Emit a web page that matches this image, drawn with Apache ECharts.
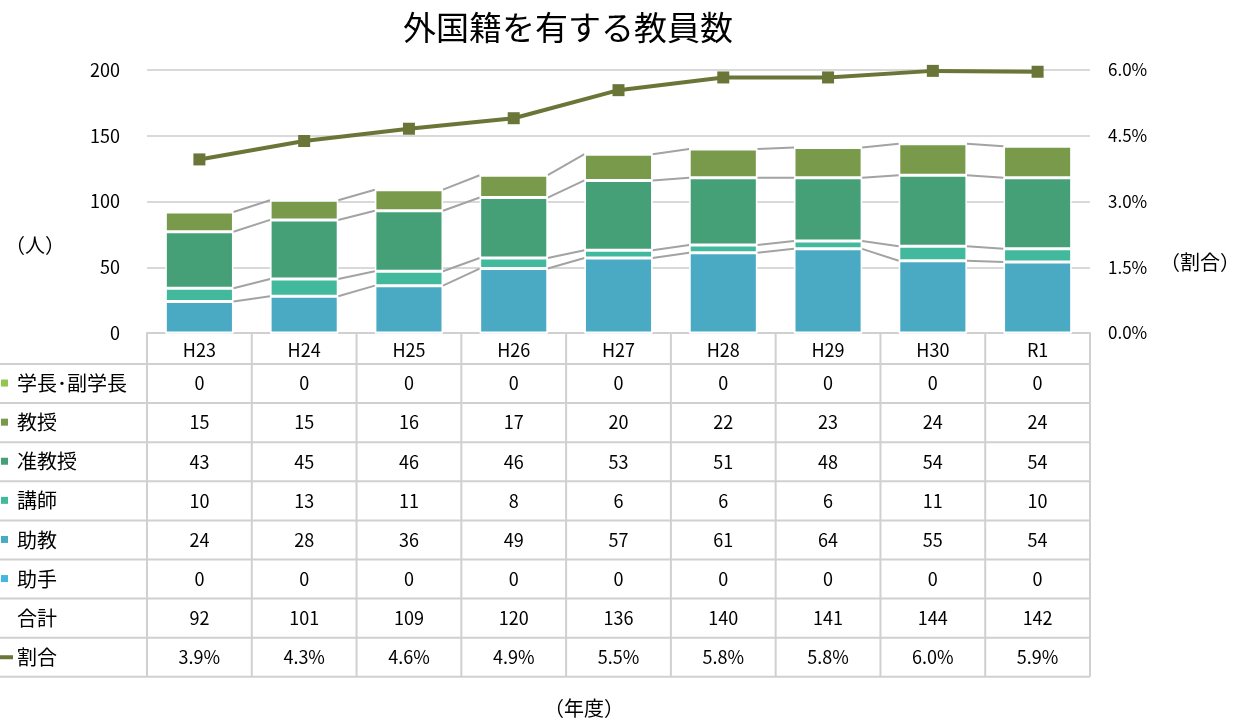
<!DOCTYPE html>
<html lang="ja">
<head>
<meta charset="UTF-8">
<title>外国籍を有する教員数</title>
<style>
  html, body { margin: 0; padding: 0; background: #fff; }
  #main { width: 1238px; height: 720px; }
</style>
</head>
<body>
<div id="main"></div>
<script src="https://cdn.jsdelivr.net/npm/echarts@6/dist/echarts.min.js"></script>
<script>
var years = ['H23', 'H24', 'H25', 'H26', 'H27', 'H28', 'H29', 'H30', 'R1'];

// 学長・副学長 / 教授 / 准教授 / 講師 / 助教 / 助手
var gakucho = [0, 0, 0, 0, 0, 0, 0, 0, 0];
var kyoju   = [15, 15, 16, 17, 20, 22, 23, 24, 24];
var junkyoju = [43, 45, 46, 46, 53, 51, 48, 54, 54];
var koshi   = [10, 13, 11, 8, 6, 6, 6, 11, 10];
var jokyo   = [24, 28, 36, 49, 57, 61, 64, 55, 54];
var joshu   = [0, 0, 0, 0, 0, 0, 0, 0, 0];
// 割合: line values, table text as printed
var wariai  = [3.96, 4.38, 4.66, 4.9, 5.54, 5.83, 5.83, 5.98, 5.96];
var wariaiText = ['3.9%', '4.3%', '4.6%', '4.9%', '5.5%', '5.8%', '5.8%', '6.0%', '5.9%'];

var leftTicks = [0, 50, 100, 150, 200];
var rightTicks = [0, 1.5, 3.0, 4.5, 6.0];

// bottom of the stack first
var stackSeries = [
  { name: '助手', data: joshu, color: '#45b5e4' },
  { name: '助教', data: jokyo, color: '#4baac3' },
  { name: '講師', data: koshi, color: '#42b99d' },
  { name: '准教授', data: junkyoju, color: '#45a078' },
  { name: '教授', data: kyoju, color: '#789a4a' },
  { name: '学長・副学長', data: gakucho, color: '#92c74f' }
];
var lineColor = '#6a7538';
var barRatio = 0.65;

var totals = years.map(function (y, i) {
  var s = 0;
  stackSeries.forEach(function (ss) { s += ss.data[i]; });
  return s;
});

var chart = echarts.init(document.getElementById('main'));
var fontFamily = '"Noto Sans CJK JP", "Noto Sans", sans-serif';

var series = [];
stackSeries.forEach(function (ss) {
  series.push({
    name: ss.name,
    type: 'bar',
    stack: 'all',
    barWidth: (barRatio * 100) + '%',
    data: ss.data,
    itemStyle: { color: ss.color, borderColor: '#ffffff', borderWidth: 1.5 },
    z: 3
  });
});

// series lines between bars (cumulative tops)
var cum = years.map(function () { return 0; });
stackSeries.forEach(function (ss) {
  var allZero = ss.data.every(function (v) { return v === 0; });
  cum = cum.map(function (c, i) { return c + ss.data[i]; });
  if (allZero) return;
  var level = cum.slice();
  var segs = [];
  for (var i = 0; i < years.length - 1; i++) segs.push([i, level[i], level[i + 1]]);
  series.push({
    type: 'custom',
    data: segs,
    silent: true,
    z: 2,
    renderItem: function (params, api) {
      var i = api.value(0);
      var p1 = api.coord([i, api.value(1)]);
      var p2 = api.coord([i + 1, api.value(2)]);
      var hw = api.size([1, 0])[0] * barRatio / 2;
      return {
        type: 'line',
        shape: { x1: p1[0] + hw, y1: p1[1], x2: p2[0] - hw, y2: p2[1] },
        style: { stroke: '#a3a3a3', lineWidth: 2 }
      };
    }
  });
});

series.push({
  name: '割合',
  type: 'line',
  yAxisIndex: 1,
  data: wariai,
  symbol: 'rect',
  symbolSize: 12,
  lineStyle: { color: lineColor, width: 4 },
  itemStyle: { color: lineColor },
  z: 5
});

var option = {
  animation: false,
  textStyle: { fontFamily: fontFamily },
  title: {
    text: '外国籍を有する教員数',
    left: 563,
    top: 6,
    textAlign: 'center',
    textStyle: { fontSize: 33, fontWeight: 'normal', color: '#000', fontFamily: fontFamily }
  },
  grid: { left: 147, right: 148, top: 70, bottom: 387 },
  xAxis: {
    type: 'category',
    data: years,
    axisLine: { lineStyle: { color: '#d0d0d0', width: 2 } },
    axisTick: { show: false },
    axisLabel: { color: '#000', fontSize: 18, margin: 8, fontFamily: fontFamily }
  },
  yAxis: [{
    type: 'value',
    min: leftTicks[0],
    max: leftTicks[leftTicks.length - 1],
    interval: leftTicks[1] - leftTicks[0],
    axisLine: { show: false },
    axisTick: { show: false },
    axisLabel: { color: '#000', fontSize: 18, margin: 27, fontFamily: fontFamily },
    splitLine: { lineStyle: { color: '#d9d9d9', width: 2 } }
  }, {
    type: 'value',
    min: rightTicks[0],
    max: rightTicks[rightTicks.length - 1],
    interval: rightTicks[1] - rightTicks[0],
    axisLine: { show: false },
    axisTick: { show: false },
    splitLine: { show: false },
    axisLabel: {
      color: '#000', fontSize: 17, margin: 18, fontFamily: fontFamily,
      formatter: function (v) { return v.toFixed(1) + '%'; }
    }
  }],
  series: series
};
chart.setOption(option);

// data table under the chart
var xs = years.map(function (y, i) { return chart.convertToPixel({ xAxisIndex: 0 }, i); });
var cw = xs[1] - xs[0];
var tableLeft = xs[0] - cw / 2;
var tableRight = xs[xs.length - 1] + cw / 2;
var axisY = chart.convertToPixel({ yAxisIndex: 0 }, 0);
var headerH = 31;
var rowH = 39.1;
var gridColor = '#d0d0d0';

var rows = [
  { label: '学長･副学長', vals: gakucho, marker: '#92c74f' },
  { label: '教授', vals: kyoju, marker: '#789a4a' },
  { label: '准教授', vals: junkyoju, marker: '#45a078' },
  { label: '講師', vals: koshi, marker: '#42b99d' },
  { label: '助教', vals: jokyo, marker: '#4baac3' },
  { label: '助手', vals: joshu, marker: '#45b5e4' },
  { label: '合計', vals: totals, marker: null },
  { label: '割合', vals: wariaiText, marker: 'line' }
];

var g = [];
var top0 = axisY + headerH;
var bottom = top0 + rows.length * rowH;
// vertical lines
for (var c = 0; c <= years.length; c++) {
  var vx = tableLeft + c * cw;
  g.push({ type: 'line', shape: { x1: vx, y1: axisY, x2: vx, y2: bottom },
    style: { stroke: gridColor, lineWidth: 2 }, z: 1 });
}
// horizontal lines
for (var r = 0; r <= rows.length; r++) {
  var hy = top0 + r * rowH;
  g.push({ type: 'line', shape: { x1: 0, y1: hy, x2: tableRight, y2: hy },
    style: { stroke: gridColor, lineWidth: 2 }, z: 1 });
}
rows.forEach(function (row, r) {
  var cy = top0 + r * rowH + rowH / 2;
  g.push({ type: 'text', x: 17, y: cy, style: {
    text: row.label, fill: '#000', font: '20px ' + fontFamily,
    textVerticalAlign: 'middle', verticalAlign: 'middle' } });
  if (row.marker === 'line') {
    g.push({ type: 'line', shape: { x1: 0, y1: cy, x2: 13, y2: cy },
      style: { stroke: lineColor, lineWidth: 4 } });
  } else if (row.marker) {
    g.push({ type: 'rect', shape: { x: 1, y: cy - 4, width: 7, height: 7 },
      style: { fill: row.marker } });
  }
  row.vals.forEach(function (v, i) {
    g.push({ type: 'text', x: xs[i], y: cy, style: {
      text: String(v), fill: '#000', font: '18px ' + fontFamily,
      textAlign: 'center', align: 'center',
      textVerticalAlign: 'middle', verticalAlign: 'middle' } });
  });
});

// axis names
function axisName(txt, x, y) {
  g.push({ type: 'text', x: x, y: y, style: { text: txt, fill: '#000',
    font: '20px ' + fontFamily, textAlign: 'center', align: 'center',
    textVerticalAlign: 'middle', verticalAlign: 'middle' } });
}
axisName('（人）', 35, 245);
axisName('（割合）', 1200, 262);
axisName('（年度）', 584, 708);

chart.setOption({ graphic: g });
</script>
</body>
</html>
